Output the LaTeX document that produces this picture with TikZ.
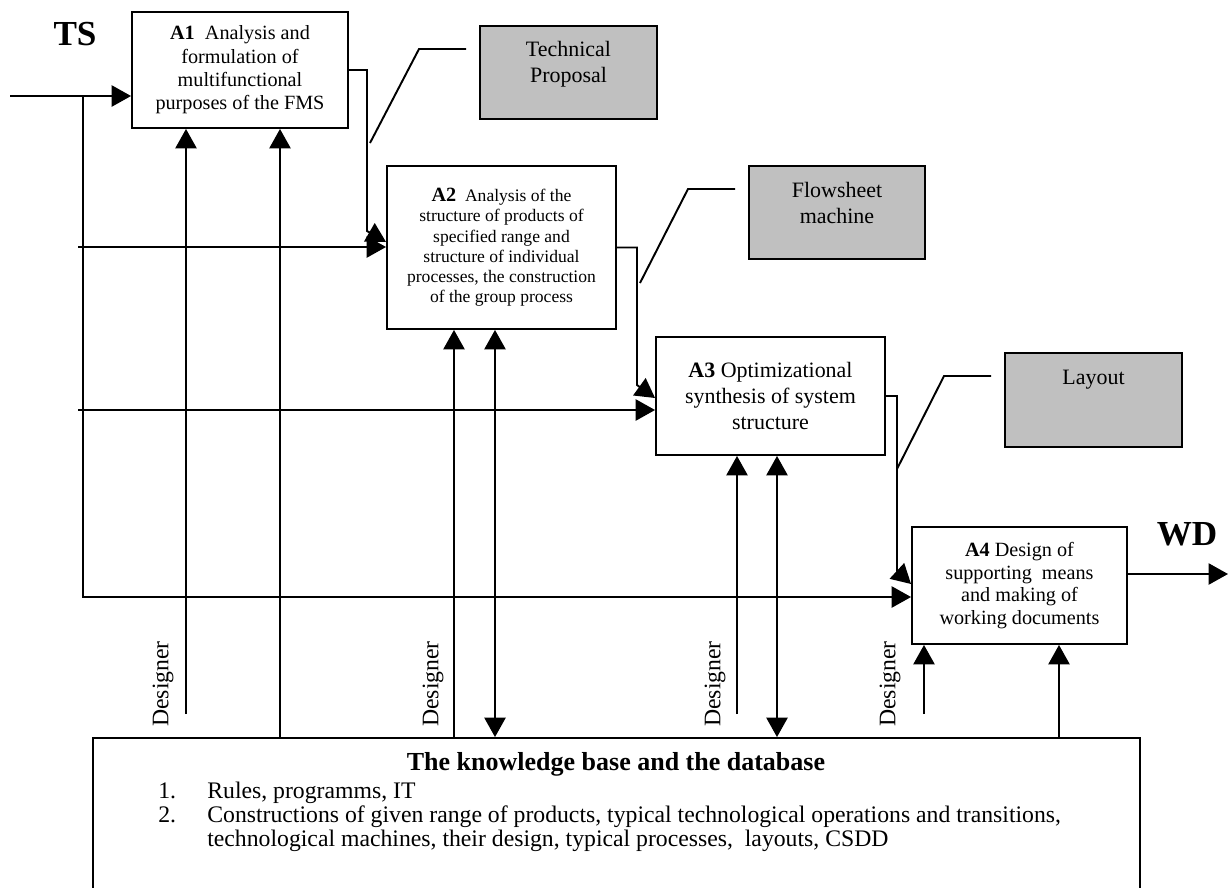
\documentclass[tikz,border=0pt]{standalone}
\usepackage{fontspec}
\setmainfont{Liberation Serif}
\usepackage{tikz}
\usetikzlibrary{arrows.meta}
\definecolor{boxgray}{RGB}{192,192,192}

\tikzset{
  procbox/.style={draw, line width=1.1pt, align=center, inner sep=0pt},
  outbox/.style={draw, line width=1.1pt, fill=boxgray, inner sep=0pt},
  outtext/.style={anchor=north, inner sep=0pt, align=center, font=\fontsize{12.5}{14.7}\selectfont},
  flow/.style={->, line width=1.1pt},
  callout/.style={line width=1.1pt},
  role/.style={rotate=90, inner sep=0pt, font=\fontsize{13.5}{15}\selectfont},
  bigtag/.style={anchor=base, inner sep=0pt, font=\fontsize{20}{24}\selectfont\bfseries},
}

\begin{document}
\begin{tikzpicture}[line join=miter, >={Triangle[length=11pt,width=12pt]}, x=0.02cm, y=-0.02cm]
  \useasboundingbox (0,0) rectangle (1228,887);
  % process blocks
  \node[procbox, minimum width=4.32cm, minimum height=2.32cm, font=\fontsize{11.5}{13.3}\selectfont] (a1) at (240,70)
    {\textbf{A1}~~Analysis and\\formulation of\\multifunctional\\purposes of the FMS};
  \node[procbox, minimum width=4.58cm, minimum height=3.26cm, font=\fontsize{10}{11.5}\selectfont] (a2) at (501.5,247.5)
    {{\fontsize{11.5}{11.5}\selectfont\textbf{A2}}~~Analysis of the\\structure of products of\\specified range and\\structure of individual\\processes, the construction\\of the group process};
  \node[procbox, minimum width=4.58cm, minimum height=2.36cm, font=\fontsize{12.5}{14.7}\selectfont] (a3) at (770.5,396)
    {\textbf{A3} Optimizational\\synthesis of system\\structure};
  \node[procbox, minimum width=4.30cm, minimum height=2.34cm, font=\fontsize{11.5}{13}\selectfont] (a4) at (1019.5,585.5)
    {\textbf{A4} Design of\\supporting~ means\\and making of\\working documents};
  % results
  \node[outbox, minimum width=3.54cm, minimum height=1.86cm] (tp) at (568.5,72.5) {};
  \node[outtext] (tpt) at (568.5,41) {Technical\\Proposal};
  \node[outbox, minimum width=3.52cm, minimum height=1.86cm] (fm) at (837,212.5) {};
  \node[outtext] (fmt) at (837,182) {Flowsheet\\machine};
  \node[outbox, minimum width=3.54cm, minimum height=1.88cm] (ly) at (1093.5,400) {};
  \node[outtext] (lyt) at (1093.5,369.5) {Layout};
  % knowledge base
  \node[procbox, minimum width=20.95cm, minimum height=3.24cm] (kb) at (616.25,819) {};
  \node[anchor=base, inner sep=0pt, font=\fontsize{14.8}{17}\selectfont\bfseries] (kbt) at (616,770)
    {The knowledge base and the database};
  \node[anchor=base west, inner sep=0pt, font=\fontsize{13.5}{13.9}\selectfont] (kbl) at (158,798)
    {\begin{tabular}[t]{@{}p{0.98cm}@{}l@{}}
      1. & Rules, programms, IT\\
      2. & Constructions of given range of products, typical technological operations and transitions,\\
         & technological machines, their design, typical processes,~ layouts, CSDD
    \end{tabular}};
  \node[bigtag] (ts) at (75,45) {TS};
  \node[bigtag] (wd) at (1187,545) {WD};
  \foreach \x in {163,433,715,890}
    \node[role] (des\x) at (\x,684) {Designer};
  % inputs
  \coordinate (tsin) at (10,96);
  \coordinate (tsdn) at (83,96);
  \coordinate (tsbot) at (83,597);
  \coordinate (in2) at (78,247);
  \coordinate (in3) at (78,410);
  \coordinate (wdout) at (1228,574);
  \draw[flow] (tsin) -- (tsin -| a1.west);
  \draw[flow] (tsdn) -- (tsbot) -- (tsbot -| a4.west);
  \draw[flow] (in2) -- (in2 -| a2.west);
  \draw[flow] (in3) -- (in3 -| a3.west);
  % outputs
  \draw[flow] (a1.east) -- (367,70) -- (367,231) -- (a2.west |- 0,242);
  \draw[flow] (a2.east) -- (637,247.5) -- (637,385) -- (a3.west |- 0,398);
  \draw[flow] (a3.east) -- (897,396) -- (897,571) -- (a4.west |- 0,584);
  \draw[flow] (a4.east |- wdout) -- (wdout);
  \draw[callout] (370,143) -- (419,49) -- (466,49);
  \draw[callout] (640,283) -- (688,189) -- (735,189);
  \draw[callout] (897,469) -- (944,376) -- (991,376);
  % designer and data links
  \foreach \x/\b in {186/a1,737/a3,924/a4}
    \draw[flow] (\x,714) -- (\b.south -| \x,0);
  \foreach \x/\b in {280/a1,454/a2,1059/a4}
    \draw[flow] (kb.north -| \x,0) -- (\b.south -| \x,0);
  \foreach \x/\b in {495/a2,777/a3}
    \draw[flow,<->] (\b.south -| \x,0) -- (kb.north -| \x,0);
\end{tikzpicture}
\end{document}
